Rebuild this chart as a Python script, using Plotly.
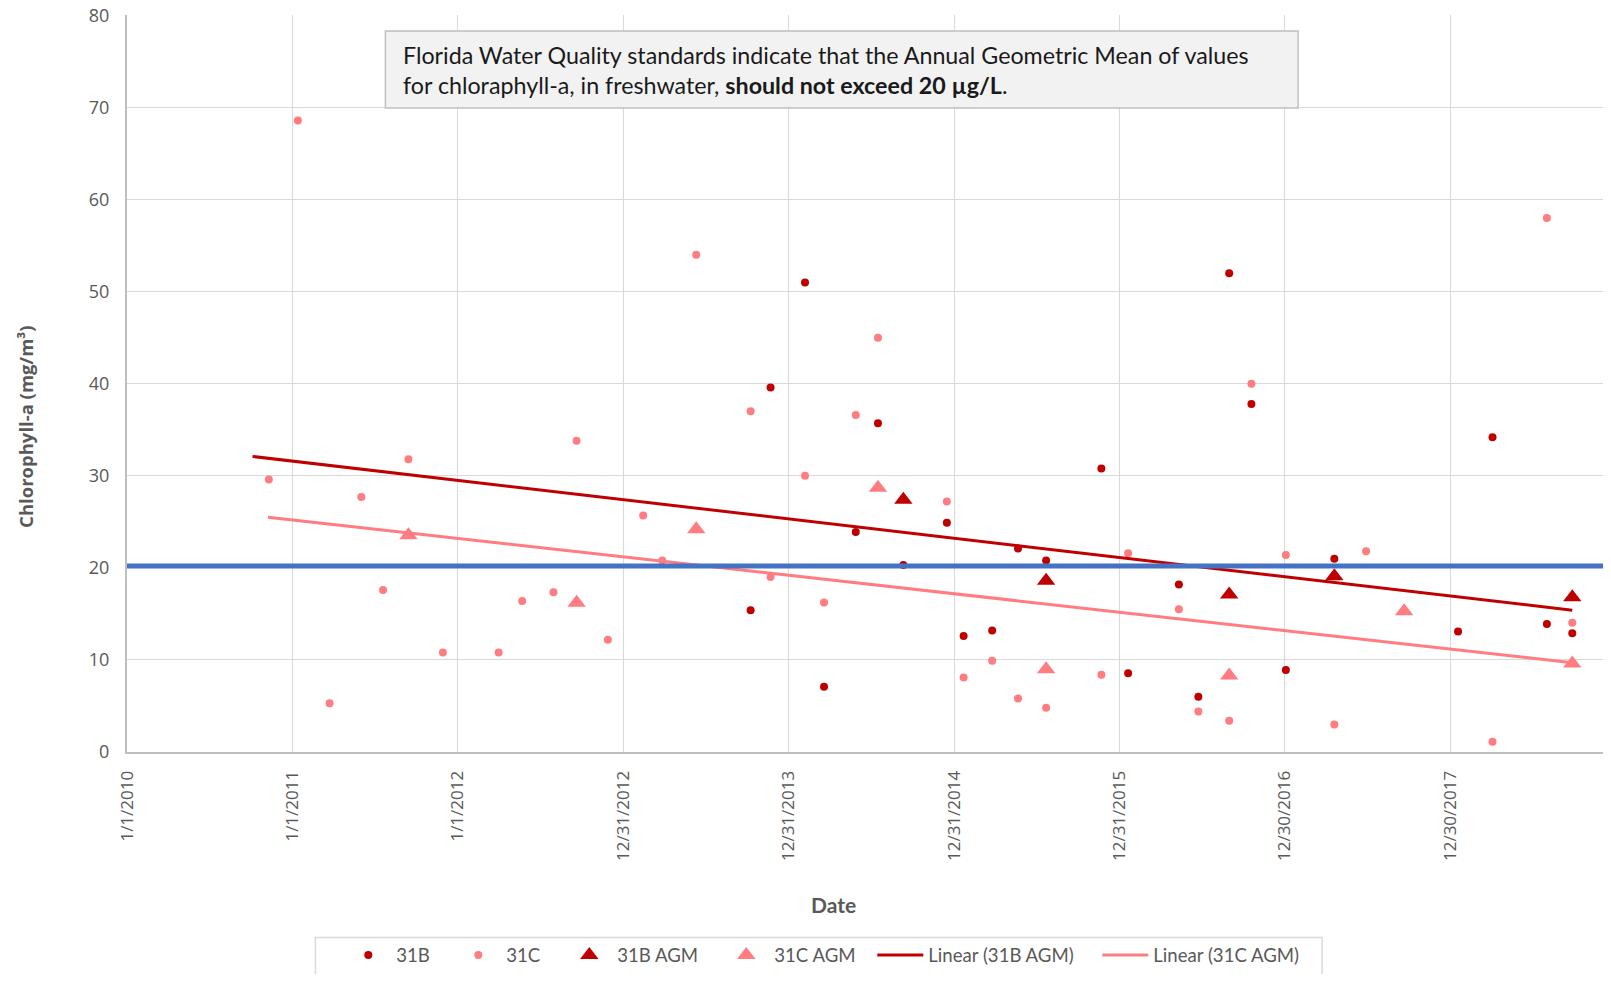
import plotly.graph_objects as go

# 31B station samples (mg/m3)
b_dates = ['2013-10-08', '2013-11-21', '2014-02-05', '2014-03-19', '2014-05-28', '2014-07-16',
           '2014-09-10', '2014-12-15', '2015-01-21', '2015-03-25', '2015-05-21', '2015-07-22',
           '2015-11-21', '2016-01-19', '2016-05-10', '2016-06-22', '2016-08-29', '2016-10-17',
           '2017-01-01', '2017-04-18', '2018-01-16', '2018-04-02', '2018-07-31', '2018-09-25']
b_values = [15.4, 39.6, 51.0, 7.1, 23.9, 35.7,
            20.3, 24.9, 12.6, 13.2, 22.1, 20.8,
            30.8, 8.55, 18.2, 6.0, 52.0, 37.8,
            8.9, 21.0, 13.1, 34.2, 13.9, 12.9]

# 31C station samples (mg/m3)
c_dates = ['2010-11-10', '2011-01-13', '2011-03-24', '2011-06-02', '2011-07-20', '2011-09-14',
           '2011-11-29', '2012-03-31', '2012-05-22', '2012-07-30', '2012-09-19', '2012-11-27',
           '2013-02-13', '2013-03-27', '2013-06-10', '2013-10-08', '2013-11-21', '2014-02-05',
           '2014-03-19', '2014-05-28', '2014-07-16', '2014-12-15', '2015-01-21', '2015-03-25',
           '2015-05-21', '2015-07-22', '2015-11-21', '2016-01-19', '2016-05-10', '2016-06-22',
           '2016-08-29', '2016-10-17', '2017-01-01', '2017-04-18', '2017-06-27', '2018-04-02',
           '2018-07-31', '2018-09-25']
c_values = [29.6, 68.6, 5.3, 27.7, 17.6, 31.8,
            10.8, 10.8, 16.4, 17.35, 33.8, 12.2,
            25.7, 20.8, 54.0, 37.0, 19.0, 30.0,
            16.25, 36.6, 45.0, 27.2, 8.1, 9.9,
            5.8, 4.8, 8.4, 21.6, 15.5, 4.4,
            3.4, 40.0, 21.4, 3.0, 21.8, 1.1,
            58.0, 14.05]

# annual geometric means
b_agm_dates = ['2014-09-10', '2015-07-22', '2016-08-29', '2017-04-18', '2018-09-25']
b_agm_values = [27.4, 18.6, 17.1, 19.1, 16.8]
c_agm_dates = ['2011-09-14', '2012-09-19', '2013-06-10', '2014-07-16', '2015-07-22',
               '2016-08-29', '2017-09-19', '2018-09-25']
c_agm_values = [23.55, 16.2, 24.2, 28.7, 9.0, 8.3, 15.3, 9.6]

# linear trend end points as drawn on the chart
b_trend_dates = ['2010-10-05', '2018-09-25']
b_trend_values = [32.1, 15.4]
c_trend_dates = ['2010-11-08', '2018-09-25']
c_trend_values = [25.5, 9.7]

standard_level = 20.2

tick_dates = ['2010-01-01', '2011-01-01', '2012-01-01', '2012-12-31', '2013-12-31',
              '2014-12-31', '2015-12-31', '2016-12-30', '2017-12-30']
tick_labels = ['1/1/2010', '1/1/2011', '1/1/2012', '12/31/2012', '12/31/2013',
               '12/31/2014', '12/31/2015', '12/30/2016', '12/30/2017']

dark_red = '#C00000'
light_red = '#FF7C80'
grey_text = '#595959'

# page has an 8px body margin, so the figure is a bit smaller than the window
OFF = 8
W, H = 1595, 966
PLOT_L, PLOT_R, PLOT_T, PLOT_B = 126.5, 1603, 15, 751.7   # page pixels


def px(x):
    return (x - PLOT_L) / (PLOT_R - PLOT_L)


def py(y):
    return (PLOT_B - y) / (PLOT_B - PLOT_T)


fig = go.Figure()

fig.add_trace(go.Scatter(x=b_dates, y=b_values, name='31B', mode='markers',
                         marker=dict(color=dark_red, size=8), legendwidth=49))
fig.add_trace(go.Scatter(x=c_dates, y=c_values, name='31C', mode='markers',
                         marker=dict(color=light_red, size=8), legendwidth=50))
fig.add_trace(go.Scatter(x=b_agm_dates, y=b_agm_values, name='31B AGM', mode='markers',
                         marker=dict(color=dark_red, size=16, symbol='triangle-up'), legendwidth=96))
fig.add_trace(go.Scatter(x=c_agm_dates, y=c_agm_values, name='31C AGM', mode='markers',
                         marker=dict(color=light_red, size=16, symbol='triangle-up'), legendwidth=93))
fig.add_trace(go.Scatter(x=b_trend_dates, y=b_trend_values, name='Linear (31B AGM)', mode='lines',
                         line=dict(color=dark_red, width=3), legendwidth=164))
fig.add_trace(go.Scatter(x=c_trend_dates, y=c_trend_values, name='Linear (31C AGM)', mode='lines',
                         line=dict(color=light_red, width=3), legendwidth=150))

# standard line
fig.add_shape(type='line', xref='paper', yref='y', x0=0, x1=1, y0=standard_level, y1=standard_level,
              line=dict(color='#4472C4', width=5), layer='above')

# note box
fig.add_shape(type='rect', xref='paper', yref='paper', x0=px(385), x1=px(1298), y0=py(108), y1=py(31),
              fillcolor='#F2F2F2', line=dict(color='#BFBFBF', width=1.5), layer='above')
fig.add_annotation(xref='paper', yref='paper', x=px(401), y=py(54.5), xanchor='left', yanchor='middle',
                   showarrow=False, align='left', font=dict(family='Lato', size=23.25, color='#1a1a1a'),
                   text='Florida Water Quality standards indicate that the Annual Geometric Mean of values')
fig.add_annotation(xref='paper', yref='paper', x=px(401), y=py(85.3), xanchor='left', yanchor='middle',
                   showarrow=False, align='left', font=dict(family='Lato', size=23.25, color='#1a1a1a'),
                   text='for chloraphyll-a, in freshwater, <b>should not exceed 20 µg/L</b>.')

# axis titles
fig.add_annotation(xref='paper', yref='paper', x=px(25.5), y=py(426.7), textangle=-90,
                   xanchor='center', yanchor='middle',
                   showarrow=False, font=dict(family='Open Sans', size=18.5, color=grey_text),
                   text='<b>Chlorophyll-a (mg/m³)</b>')
fig.add_annotation(xref='paper', yref='paper', x=px(833), y=py(904),
                   xanchor='center', yanchor='middle',
                   showarrow=False, font=dict(family='Lato', size=21, color=grey_text),
                   text='<b>Date</b>')

# legend frame
fig.add_shape(type='rect', xref='paper', yref='paper', x0=px(315), x1=px(1322), y0=py(975), y1=py(937),
              line=dict(color='#D9D9D9', width=1.5))

fig.update_xaxes(type='date', range=['2010-01-01', '2018-12-01 19:00'],
                 tickmode='array', tickvals=tick_dates, ticktext=tick_labels, tickangle=-90,
                 tickfont=dict(family='Open Sans', size=17, color=grey_text),
                 showgrid=True, gridcolor='#D9D9D9', gridwidth=1.3,
                 showline=True, linecolor='#BFBFBF', linewidth=2,
                 ticks='', ticklabelstandoff=10, zeroline=False, automargin=False)
fig.update_yaxes(range=[0, 80.05], tickmode='linear', tick0=0, dtick=10,
                 tickfont=dict(family='Open Sans', size=18, color=grey_text),
                 showgrid=True, gridcolor='#D9D9D9', gridwidth=1.3,
                 showline=True, linecolor='#BFBFBF', linewidth=2,
                 ticks='', ticklabelstandoff=12, ticklabeloverflow='allow',
                 zeroline=False, automargin=False)

fig.update_layout(width=W, height=H, autosize=False,
                  margin=dict(l=PLOT_L - OFF, r=W - (PLOT_R - OFF), t=PLOT_T - OFF,
                              b=H - (PLOT_B - OFF), autoexpand=False),
                  plot_bgcolor='white', paper_bgcolor='white',
                  showlegend=True,
                  legend=dict(orientation='h', xref='container', yref='container',
                              x=332.3 / W, y=1 - (955.5 - OFF) / H, xanchor='left', yanchor='middle',
                              font=dict(family='Lato', size=18.6, color=grey_text),
                              bgcolor='rgba(0,0,0,0)', borderwidth=0, itemwidth=46))

fig.write_html("out.html")
